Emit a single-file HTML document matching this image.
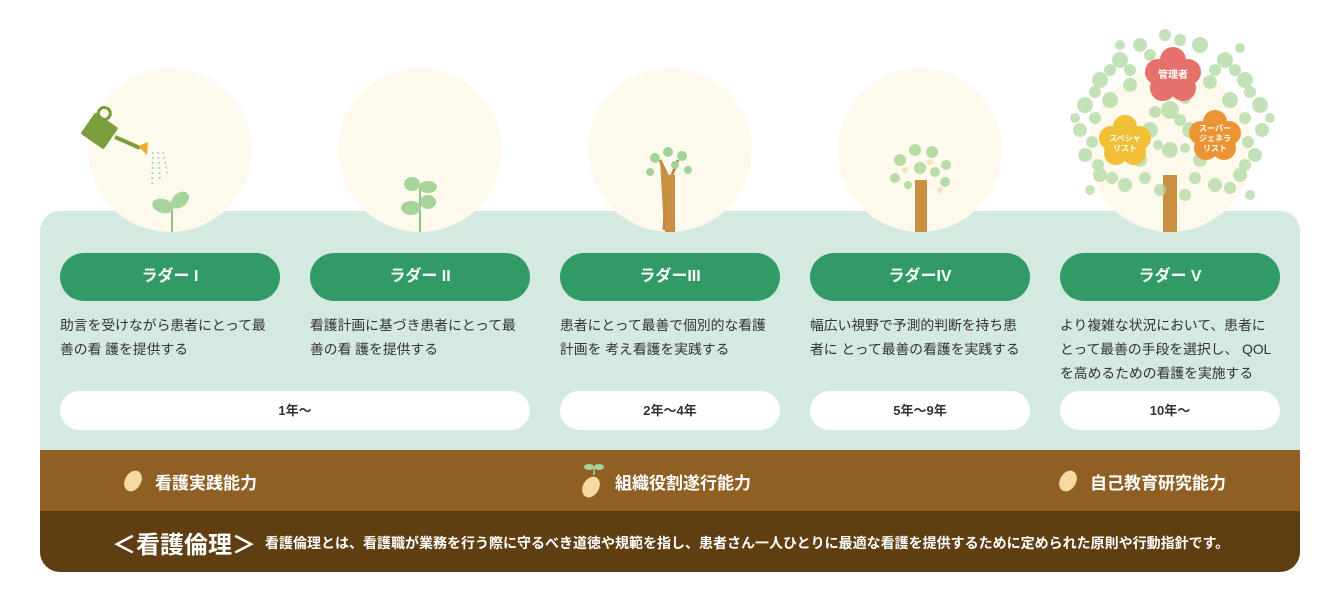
<!DOCTYPE html>
<html><head><meta charset="utf-8"><style>
*{margin:0;padding:0;box-sizing:border-box}
body{width:1339px;height:604px;background:#fff;position:relative;overflow:hidden;font-family:"Liberation Sans","Noto Sans CJK JP",sans-serif}
.a{position:absolute}
.panel{left:40px;top:211px;width:1260px;height:240px;background:#d4e9df;border-radius:20px 20px 0 0}
.b1{left:40px;top:450px;width:1260px;height:61px;background:#8f5f23}
.b2{left:40px;top:511px;width:1260px;height:61px;background:#5f3e12;border-radius:0 0 20px 20px}
.pill{top:253px;width:220px;height:48px;border-radius:24px;background:#319a67;color:#fff;font-weight:bold;font-size:16px;text-align:center;line-height:48px}
.desc{top:314px;width:214px;font-size:13.8px;line-height:24px;color:#333}
.yr{top:391px;height:39px;border-radius:20px;background:#fff;text-align:center;line-height:39px;font-size:13px;font-weight:bold;color:#333}
.cap{color:#fff;font-weight:bold;font-size:17px;top:469px}
</style></head><body>
<div class="a panel"></div>
<div class="a b1"></div>
<div class="a b2"></div>
<svg class="a" style="left:0;top:0" width="1339" height="250">
<g fill="#fdf9ec">
<circle cx="170" cy="150" r="82"/><circle cx="420" cy="150" r="82"/><circle cx="670" cy="150" r="82"/><circle cx="920" cy="150" r="82"/><circle cx="1170" cy="150" r="82"/>
</g>
<g transform="translate(100,130) rotate(35)"><rect x="-14" y="-12" width="28" height="26" rx="2" fill="#7a9e3e"/><circle cx="-6" cy="-16" r="6" fill="none" stroke="#7a9e3e" stroke-width="3"/></g>
<line x1="115" y1="137" x2="140" y2="148" stroke="#7a9e3e" stroke-width="4"/>
<polygon points="138,146 148,142 147,155" fill="#f0a830"/>
<g stroke="#9cc8d8" stroke-width="1.5" stroke-dasharray="2 3"><line x1="153" y1="152" x2="152" y2="185"/><line x1="158" y1="152" x2="160" y2="180"/><line x1="163" y1="152" x2="168" y2="175"/></g>
<line x1="172" y1="205" x2="172" y2="232" stroke="#8cc47c" stroke-width="2"/>
<ellipse cx="163" cy="206" rx="11" ry="7" fill="#a6d49a" transform="rotate(15 163 206)"/>
<ellipse cx="180" cy="200" rx="10" ry="7" fill="#a6d49a" transform="rotate(-40 180 200)"/>
<line x1="420" y1="185" x2="420" y2="232" stroke="#8cc47c" stroke-width="2"/>
<ellipse cx="412" cy="184" rx="8" ry="7" fill="#a6d49a"/><ellipse cx="428" cy="187" rx="9" ry="6" fill="#a6d49a"/>
<ellipse cx="411" cy="208" rx="10" ry="7" fill="#a6d49a"/><ellipse cx="428" cy="202" rx="8" ry="7" fill="#a6d49a"/>
<path d="M664 230 L667 175 L660 160 M670 180 L678 160 M667 175 L674 230 Z" stroke="#c08a3e" stroke-width="3" fill="#c89040"/>
<rect x="665" y="175" width="10" height="57" fill="#c89040"/>
<g fill="#9fd39a"><circle cx="655" cy="158" r="5"/><circle cx="668" cy="152" r="5"/><circle cx="682" cy="156" r="5"/><circle cx="650" cy="172" r="4"/><circle cx="688" cy="170" r="4"/><circle cx="675" cy="165" r="4"/></g>
<rect x="915" y="180" width="12" height="52" fill="#c89040"/>
<g fill="#b8dca6"><circle cx="900" cy="160" r="6"/><circle cx="915" cy="150" r="6"/><circle cx="932" cy="152" r="6"/><circle cx="946" cy="165" r="5"/><circle cx="895" cy="178" r="5"/><circle cx="945" cy="182" r="5"/><circle cx="920" cy="168" r="6"/><circle cx="908" cy="185" r="4"/><circle cx="935" cy="172" r="5"/></g>
<g fill="#f5e3b8"><circle cx="905" cy="170" r="3"/><circle cx="930" cy="162" r="3"/><circle cx="940" cy="190" r="3"/></g>
<rect x="1163" y="175" width="14" height="57" fill="#c89040"/>
<g fill="#b6dca8" opacity=".8">
<circle cx="1100" cy="80" r="8"/><circle cx="1120" cy="60" r="8"/><circle cx="1140" cy="45" r="7"/><circle cx="1200" cy="45" r="8"/><circle cx="1225" cy="60" r="8"/><circle cx="1245" cy="80" r="8"/><circle cx="1260" cy="105" r="8"/><circle cx="1262" cy="130" r="7"/><circle cx="1255" cy="155" r="7"/><circle cx="1240" cy="175" r="7"/><circle cx="1085" cy="105" r="8"/><circle cx="1080" cy="130" r="7"/><circle cx="1085" cy="155" r="7"/><circle cx="1100" cy="175" r="7"/><circle cx="1125" cy="185" r="7"/><circle cx="1215" cy="185" r="7"/><circle cx="1170" cy="110" r="9"/><circle cx="1150" cy="130" r="8"/><circle cx="1190" cy="130" r="8"/><circle cx="1170" cy="150" r="8"/><circle cx="1110" cy="100" r="8"/><circle cx="1230" cy="100" r="8"/><circle cx="1140" cy="160" r="7"/><circle cx="1200" cy="160" r="7"/><circle cx="1130" cy="85" r="7"/><circle cx="1210" cy="82" r="7"/><circle cx="1165" cy="35" r="6"/><circle cx="1090" cy="190" r="5"/><circle cx="1250" cy="195" r="5"/><circle cx="1160" cy="190" r="6"/><circle cx="1185" cy="195" r="6"/>
<circle cx="1110" cy="70" r="6"/><circle cx="1130" cy="70" r="6"/><circle cx="1150" cy="55" r="6"/><circle cx="1215" cy="70" r="6"/><circle cx="1235" cy="70" r="6"/><circle cx="1095" cy="92" r="6"/><circle cx="1250" cy="92" r="6"/><circle cx="1095" cy="118" r="6"/><circle cx="1245" cy="118" r="6"/><circle cx="1092" cy="142" r="6"/><circle cx="1248" cy="142" r="6"/><circle cx="1098" cy="165" r="6"/><circle cx="1245" cy="165" r="6"/><circle cx="1112" cy="178" r="6"/><circle cx="1230" cy="188" r="6"/><circle cx="1145" cy="178" r="6"/><circle cx="1195" cy="178" r="6"/><circle cx="1160" cy="95" r="6"/><circle cx="1185" cy="98" r="6"/><circle cx="1155" cy="112" r="6"/><circle cx="1180" cy="120" r="6"/><circle cx="1158" cy="145" r="5"/><circle cx="1185" cy="148" r="5"/><circle cx="1075" cy="118" r="5"/><circle cx="1270" cy="118" r="5"/><circle cx="1180" cy="40" r="6"/><circle cx="1120" cy="45" r="5"/><circle cx="1240" cy="48" r="5"/>
</g>
<g fill="#e6716a"><circle cx="1173" cy="60" r="13"/><circle cx="1158" cy="72" r="13"/><circle cx="1188" cy="72" r="13"/><circle cx="1163" cy="88" r="13"/><circle cx="1183" cy="88" r="13"/><circle cx="1173" cy="74" r="14"/></g>
<g fill="#f2c034"><circle cx="1125" cy="127" r="12"/><circle cx="1111" cy="138" r="12"/><circle cx="1139" cy="138" r="12"/><circle cx="1116" cy="153" r="12"/><circle cx="1134" cy="153" r="12"/><circle cx="1125" cy="142" r="13"/></g>
<g fill="#ec9434"><circle cx="1215" cy="122" r="12"/><circle cx="1201" cy="133" r="12"/><circle cx="1229" cy="133" r="12"/><circle cx="1206" cy="148" r="12"/><circle cx="1224" cy="148" r="12"/><circle cx="1215" cy="137" r="13"/></g>
<g fill="#fff" font-weight="bold" text-anchor="middle" font-family="Liberation Sans,Noto Sans CJK JP,sans-serif">
<text x="1173" y="78" font-size="10">管理者</text>
<text x="1125" y="141" font-size="8">スペシャ</text><text x="1125" y="151" font-size="8">リスト</text>
<text x="1215" y="131" font-size="8">スーパー</text><text x="1215" y="141" font-size="8">ジェネラ</text><text x="1215" y="151" font-size="8">リスト</text>
</g>
</svg>
<div class="a pill" style="left:60px">ラダー I</div>
<div class="a pill" style="left:310px">ラダー II</div>
<div class="a pill" style="left:560px">ラダーIII</div>
<div class="a pill" style="left:810px">ラダーIV</div>
<div class="a pill" style="left:1060px">ラダー V</div>
<div class="a desc" style="left:60px">助言を受けながら患者にとって最善の看 護を提供する</div>
<div class="a desc" style="left:310px">看護計画に基づき患者にとって最善の看 護を提供する</div>
<div class="a desc" style="left:560px">患者にとって最善で個別的な看護計画を 考え看護を実践する</div>
<div class="a desc" style="left:810px">幅広い視野で予測的判断を持ち患者に とって最善の看護を実践する</div>
<div class="a desc" style="left:1060px">より複雑な状況において、患者にとって最善の手段を選択し、 QOLを高めるための看護を実施する</div>
<div class="a yr" style="left:60px;width:470px">1年〜</div>
<div class="a yr" style="left:560px;width:220px">2年〜4年</div>
<div class="a yr" style="left:810px;width:220px">5年〜9年</div>
<div class="a yr" style="left:1060px;width:220px">10年〜</div>
<svg class="a" style="left:0;top:455px" width="1339" height="50">
<ellipse cx="133" cy="26" rx="8" ry="11" fill="#f6d9a0" transform="rotate(30 133 26)"/>
<ellipse cx="591" cy="32" rx="8" ry="11" fill="#f6d9a0" transform="rotate(30 591 32)"/>
<line x1="594" y1="20" x2="594" y2="13" stroke="#8cc47c" stroke-width="2"/>
<ellipse cx="589" cy="12" rx="5" ry="3" fill="#a6d49a"/><ellipse cx="599" cy="12" rx="5" ry="3" fill="#a6d49a"/>
<ellipse cx="1068" cy="26" rx="8" ry="11" fill="#f6d9a0" transform="rotate(30 1068 26)"/>
</svg>
<div class="a cap" style="left:155px">看護実践能力</div>
<div class="a cap" style="left:615px">組織役割遂行能力</div>
<div class="a cap" style="left:1090px">自己教育研究能力</div>
<div class="a" style="left:112px;top:525px;color:#fff;font-size:24px;font-weight:bold">＜看護倫理＞</div>
<div class="a" style="left:265px;top:533px;color:#fff;font-size:14px;font-weight:bold;white-space:nowrap">看護倫理とは、看護職が業務を行う際に守るべき道徳や規範を指し、患者さん一人ひとりに最適な看護を提供するために定められた原則や行動指針です。</div>
</body></html>
